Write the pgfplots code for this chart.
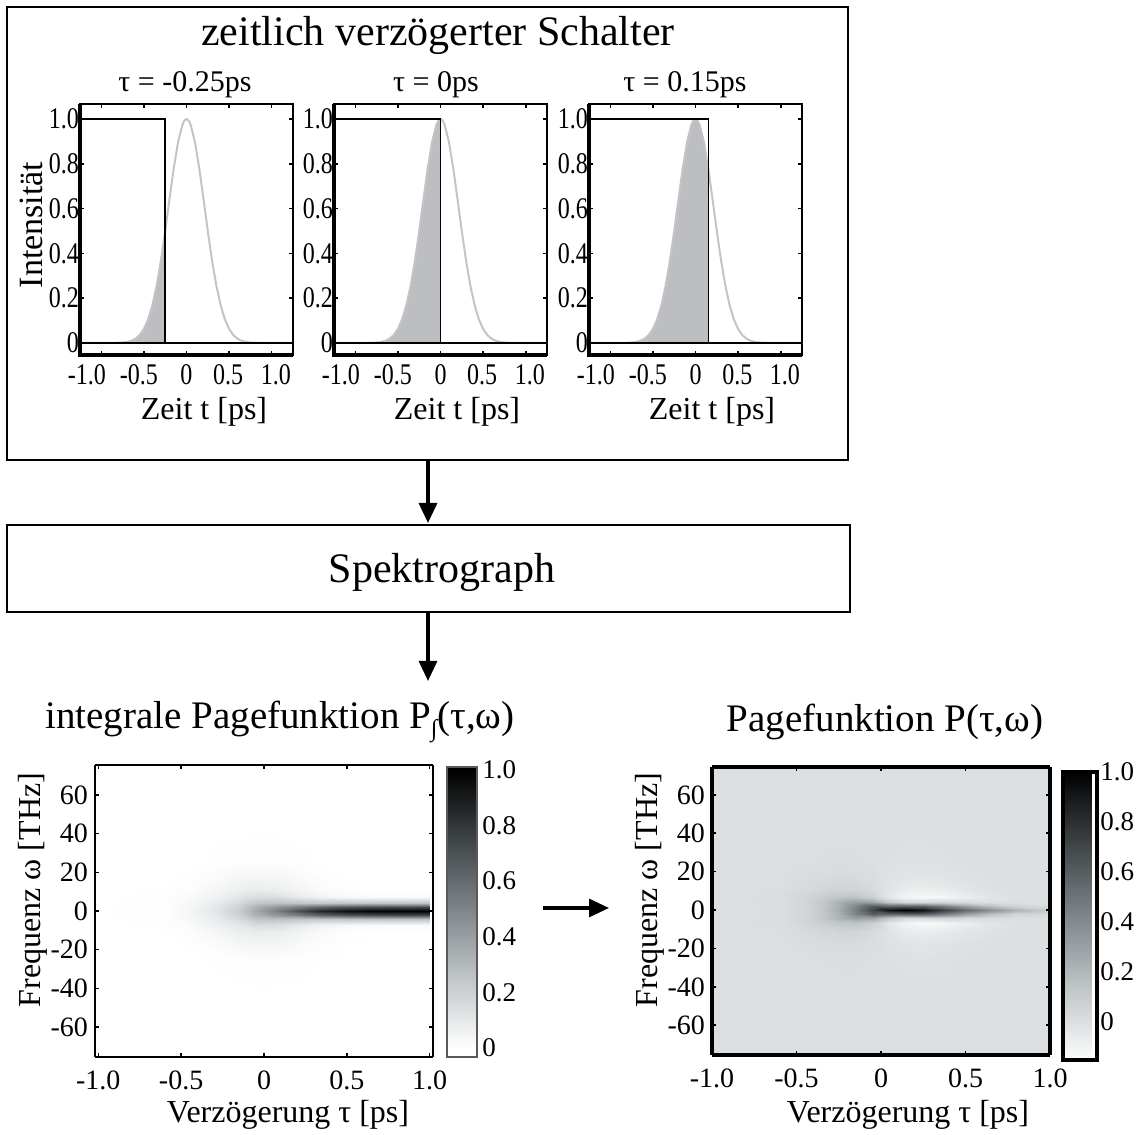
\documentclass[border=0pt]{standalone}
\usepackage{fontspec}
\setmainfont{Liberation Serif}
\newfontfamily\tickfont[FakeStretch=0.8]{Liberation Serif}
\usepackage{pgfplots}
\usepackage{pgfplotstable}
\pgfplotsset{compat=1.18}
\usetikzlibrary{arrows.meta}
\newcommand{\fs}[1]{\fontsize{#1}{#1}\selectfont}
\definecolor{fillgray}{RGB}{189,190,194}
\definecolor{curvegray}{RGB}{196,196,198}

\pgfplotstableread{
t I
-1.25 0
-1.0 0
-0.9 0.0001
-0.8 0.0008
-0.75 0.0019
-0.7 0.0043
-0.65 0.0092
-0.6 0.0184
-0.55 0.0348
-0.5 0.0623
-0.45 0.1056
-0.4 0.1693
-0.35 0.2567
-0.3 0.3683
-0.25 0.4996
-0.2 0.6415
-0.15 0.7790
-0.1 0.8949
-0.05 0.9726
-0.025 0.9931
0 1.0
0.025 0.9931
0.05 0.9726
0.1 0.8949
0.15 0.7790
0.2 0.6415
0.25 0.4996
0.3 0.3683
0.35 0.2567
0.4 0.1693
0.45 0.1056
0.5 0.0623
0.55 0.0348
0.6 0.0184
0.65 0.0092
0.7 0.0043
0.75 0.0019
0.8 0.0008
0.9 0.0001
1.0 0
1.25 0
}\pulse

\pgfplotsset{
  colormap={leftmap}{rgb255(0cm)=(255,255,255) rgb255(0.3cm)=(255,255,255) rgb255(2.7cm)=(193,198,201) rgb255(5.1cm)=(127,133,137) rgb255(7.5cm)=(63,68,71) rgb255(9.9cm)=(0,0,0) rgb255(10cm)=(0,0,0)},
  colormap={rightmap}{rgb255(0cm)=(252,253,253) rgb255(2.5cm)=(192,197,200) rgb255(5cm)=(127,133,137) rgb255(7.5cm)=(63,68,71) rgb255(10cm)=(0,0,0)},
  smallplot/.style={
    scale only axis, width=106.5pt, height=125.5pt, anchor=south west,
    xmin=-1.25, xmax=1.25, ymin=-0.054, ymax=1.067,
    axis line style={line width=0.6pt},
    tick align=inside, major tick length=1.8pt,
    tick style={line width=0.8pt, black},
    xtick={-1,-0.5,0,0.5,1}, xticklabels={},
    extra x ticks={-1.17,-0.56,0,0.49,1.05},
    extra x tick labels={-1.0,-0.5,0,0.5,1.0},
    extra x tick style={major tick length=0pt},
    ytick={0,0.2,0.4,0.6,0.8,1.0},
    yticklabels={0,0.2,0.4,0.6,0.8,1.0},
    tick label style={font=\tickfont\fs{15}},
    yticklabel style={inner sep=0.4pt},
    xticklabel style={yshift=-1pt},
    after end axis/.code={\draw[line width=1.6pt] (rel axis cs:0,1) -- (rel axis cs:0,0) -- (rel axis cs:1,0);},
  },
  heat/.style={
    view={0}{90}, scale only axis, width=169pt, anchor=south west,
    xmin=-1.02, xmax=1.02, ymin=-75.5, ymax=75.5,
    xtick={-1,-0.5,0,0.5,1}, xticklabels={-1.0,-0.5,0,0.5,1.0},
    ytick={-60,-40,-20,0,20,40,60}, yticklabels={-60,-40,-20,0,20,40,60},
    ztick=\empty,
    tick align=inside, major tick length=2pt,
    tick style={line width=0.8pt, black},
    tick label style={font=\fs{14}},
    xticklabel style={yshift=-3.5pt},
  },
}

\begin{document}
\begin{tikzpicture}
\path[use as bounding box] (0pt,0pt) rectangle (571pt,567.5pt);
\begin{scope}[x=0.5pt,y=-0.5pt,shift={(0pt,567.5pt)}]
  \draw[line width=1pt] (7,7) rectangle (848,460);
  \draw[line width=1pt] (7,525) rectangle (850,612);
  \draw[line width=1.6pt,-{Triangle[length=10pt,width=9pt]}] (428,460) -- (428,523);
  \draw[line width=1.6pt,-{Triangle[length=10pt,width=9pt]}] (428,612) -- (428,681);
  \draw[line width=1.6pt,-{Triangle[length=10pt,width=9pt]}] (543,908) -- (609,908);
  \node[font=\fs{21}] at (438,35) {zeitlich verzögerter Schalter};
  \node[font=\fs{15}] at (185,85) {τ = -0.25ps};
  \node[font=\fs{15}] at (436,85) {τ = 0ps};
  \node[font=\fs{15}] at (685,85) {τ = 0.15ps};
  \node[font=\fs{17},rotate=90] at (31,225) {Intensität};
  \node[font=\fs{16}] at (204,412) {Zeit t [ps]};
  \node[font=\fs{16}] at (457,412) {Zeit t [ps]};
  \node[font=\fs{16}] at (712,412) {Zeit t [ps]};
  \node[font=\fs{21}] at (442,572) {Spektrograph};
  \node[font=\fs{19.5}] at (280,722) {integrale Pagefunktion P\raisebox{-0.45ex}{\fs{12}∫}(τ,ω)};
  \node[font=\fs{19.5}] at (885,722) {Pagefunktion P(τ,ω)};
  \node[font=\fs{16},rotate=90] at (33,890) {Frequenz ω [THz]};
  \node[font=\fs{16},rotate=90] at (650,890) {Frequenz ω [THz]};
  \node[font=\fs{16}] at (288,1115) {Verzögerung τ [ps]};
  \node[font=\fs{16}] at (908,1115) {Verzögerung τ [ps]};
\end{scope}

% ---- small plot 1 ----
\begin{axis}[smallplot, at={(40pt,390pt)}]
  \addplot[fill=fillgray, draw=none] table[x=t,y=I, restrict x to domain=-1.3:-0.249] {\pulse} \closedcycle;
  \addplot[curvegray, line width=1pt] table[x=t,y=I] {\pulse};
  \addplot[black, line width=0.7pt] coordinates {(-1.25,1) (-0.25,1) (-0.25,0)};
  \addplot[black, line width=0.7pt] coordinates {(-1.25,0) (1.25,0)};
\end{axis}
% ---- small plot 2 ----
\begin{axis}[smallplot, at={(167pt,390pt)}]
  \addplot[fill=fillgray, draw=none] table[x=t,y=I, restrict x to domain=-1.3:0.001] {\pulse} \closedcycle;
  \addplot[curvegray, line width=1pt] table[x=t,y=I] {\pulse};
  \addplot[black, line width=0.7pt] coordinates {(-1.25,1) (0,1) (0,0)};
  \addplot[black, line width=0.7pt] coordinates {(-1.25,0) (1.25,0)};
\end{axis}
% ---- small plot 3 ----
\begin{axis}[smallplot, at={(294.5pt,390pt)}]
  \addplot[fill=fillgray, draw=none] table[x=t,y=I, restrict x to domain=-1.3:0.151] {\pulse} \closedcycle;
  \addplot[curvegray, line width=1pt] table[x=t,y=I] {\pulse};
  \addplot[black, line width=0.7pt] coordinates {(-1.25,1) (0.15,1) (0.15,0)};
  \addplot[black, line width=0.7pt] coordinates {(-1.25,0) (1.25,0)};
\end{axis}

% ---- left heatmap ----
\begin{axis}[heat, at={(47.5pt,39pt)}, height=146pt,
  axis line style={line width=1pt},
  colormap name=leftmap, point meta min=-0.032, point meta max=1.01,
  colorbar,
  colorbar style={scale only axis, width=15pt, height=145pt,
    at={(parent axis.north east)}, anchor=north west, xshift=-1.54pt, yshift=-1pt,
    ytick={0,0.2,0.4,0.6,0.8,1}, yticklabels={0,0.2,0.4,0.6,0.8,1.0},
    yticklabel style={font=\fs{13.5}, inner sep=2.5pt},
    major tick length=0pt, axis line style={draw=black!65, line width=0.8pt}}]
\addplot3[surf, shader=interp, mesh/rows=17, mesh/cols=15] coordinates {
(-1,-76,0) (-0.6,-76,0) (-0.45,-76,0) (-0.35,-76,0) (-0.25,-76,0) (-0.15,-76,0) (-0.05,-76,0) (0.05,-76,0) (0.15,-76,0) (0.25,-76,0) (0.35,-76,0) (0.5,-76,0) (0.65,-76,0) (0.8,-76,0) (1,-76,0)
(-1,-40,0) (-0.6,-40,0) (-0.45,-40,0) (-0.35,-40,0) (-0.25,-40,0) (-0.15,-40,0) (-0.05,-40,0.001) (0.05,-40,0.001) (0.15,-40,0) (0.25,-40,0) (0.35,-40,0) (0.5,-40,0) (0.65,-40,0) (0.8,-40,0) (1,-40,0)
(-1,-25,0) (-0.6,-25,0) (-0.45,-25,0) (-0.35,-25,0.001) (-0.25,-25,0.004) (-0.15,-25,0.007) (-0.05,-25,0.009) (0.05,-25,0.009) (0.15,-25,0.007) (0.25,-25,0.003) (0.35,-25,0) (0.5,-25,0) (0.65,-25,0) (0.8,-25,0) (1,-25,0)
(-1,-17,0) (-0.6,-17,0) (-0.45,-17,0.003) (-0.35,-17,0.012) (-0.25,-17,0.025) (-0.15,-17,0.040) (-0.05,-17,0.045) (0.05,-17,0.044) (0.15,-17,0.035) (0.25,-17,0.020) (0.35,-17,0.007) (0.5,-17,0) (0.65,-17,0) (0.8,-17,0) (1,-17,0)
(-1,-11,0) (-0.6,-11,0.001) (-0.45,-11,0.012) (-0.35,-11,0.030) (-0.25,-11,0.050) (-0.15,-11,0.070) (-0.05,-11,0.085) (0.05,-11,0.080) (0.15,-11,0.062) (0.25,-11,0.040) (0.35,-11,0.020) (0.5,-11,0.006) (0.65,-11,0) (0.8,-11,0) (1,-11,0)
(-1,-7,0) (-0.6,-7,0.003) (-0.45,-7,0.022) (-0.35,-7,0.048) (-0.25,-7,0.075) (-0.15,-7,0.110) (-0.05,-7,0.150) (0.05,-7,0.150) (0.15,-7,0.120) (0.25,-7,0.085) (0.35,-7,0.055) (0.5,-7,0.030) (0.65,-7,0.022) (0.8,-7,0.022) (1,-7,0.022)
(-1,-4,0) (-0.6,-4,0.005) (-0.45,-4,0.032) (-0.35,-4,0.066) (-0.25,-4,0.110) (-0.15,-4,0.160) (-0.05,-4,0.250) (0.05,-4,0.270) (0.15,-4,0.260) (0.25,-4,0.250) (0.35,-4,0.250) (0.5,-4,0.255) (0.65,-4,0.260) (0.8,-4,0.262) (1,-4,0.264)
(-1,-2,0) (-0.6,-2,0.006) (-0.45,-2,0.037) (-0.35,-2,0.075) (-0.25,-2,0.130) (-0.15,-2,0.200) (-0.05,-2,0.330) (0.05,-2,0.410) (0.15,-2,0.480) (0.25,-2,0.560) (0.35,-2,0.630) (0.5,-2,0.690) (0.65,-2,0.715) (0.8,-2,0.725) (1,-2,0.730)
(-1,0,0) (-0.6,0,0.006) (-0.45,0,0.040) (-0.35,0,0.080) (-0.25,0,0.140) (-0.15,0,0.220) (-0.05,0,0.360) (0.05,0,0.480) (0.15,0,0.620) (0.25,0,0.750) (0.35,0,0.860) (0.5,0,0.940) (0.65,0,0.980) (0.8,0,0.995) (1,0,1.0)
(-1,2,0) (-0.6,2,0.006) (-0.45,2,0.037) (-0.35,2,0.075) (-0.25,2,0.130) (-0.15,2,0.200) (-0.05,2,0.330) (0.05,2,0.410) (0.15,2,0.480) (0.25,2,0.560) (0.35,2,0.630) (0.5,2,0.690) (0.65,2,0.715) (0.8,2,0.725) (1,2,0.730)
(-1,4,0) (-0.6,4,0.005) (-0.45,4,0.032) (-0.35,4,0.066) (-0.25,4,0.110) (-0.15,4,0.160) (-0.05,4,0.250) (0.05,4,0.270) (0.15,4,0.260) (0.25,4,0.250) (0.35,4,0.250) (0.5,4,0.255) (0.65,4,0.260) (0.8,4,0.262) (1,4,0.264)
(-1,7,0) (-0.6,7,0.003) (-0.45,7,0.022) (-0.35,7,0.048) (-0.25,7,0.075) (-0.15,7,0.110) (-0.05,7,0.150) (0.05,7,0.150) (0.15,7,0.120) (0.25,7,0.085) (0.35,7,0.055) (0.5,7,0.030) (0.65,7,0.022) (0.8,7,0.022) (1,7,0.022)
(-1,11,0) (-0.6,11,0.001) (-0.45,11,0.012) (-0.35,11,0.030) (-0.25,11,0.050) (-0.15,11,0.070) (-0.05,11,0.085) (0.05,11,0.080) (0.15,11,0.062) (0.25,11,0.040) (0.35,11,0.020) (0.5,11,0.006) (0.65,11,0) (0.8,11,0) (1,11,0)
(-1,17,0) (-0.6,17,0) (-0.45,17,0.003) (-0.35,17,0.012) (-0.25,17,0.025) (-0.15,17,0.040) (-0.05,17,0.045) (0.05,17,0.044) (0.15,17,0.035) (0.25,17,0.020) (0.35,17,0.007) (0.5,17,0) (0.65,17,0) (0.8,17,0) (1,17,0)
(-1,25,0) (-0.6,25,0) (-0.45,25,0) (-0.35,25,0.001) (-0.25,25,0.004) (-0.15,25,0.007) (-0.05,25,0.009) (0.05,25,0.009) (0.15,25,0.007) (0.25,25,0.003) (0.35,25,0) (0.5,25,0) (0.65,25,0) (0.8,25,0) (1,25,0)
(-1,40,0) (-0.6,40,0) (-0.45,40,0) (-0.35,40,0) (-0.25,40,0) (-0.15,40,0) (-0.05,40,0.001) (0.05,40,0.001) (0.15,40,0) (0.25,40,0) (0.35,40,0) (0.5,40,0) (0.65,40,0) (0.8,40,0) (1,40,0)
(-1,76,0) (-0.6,76,0) (-0.45,76,0) (-0.35,76,0) (-0.25,76,0) (-0.15,76,0) (-0.05,76,0) (0.05,76,0) (0.15,76,0) (0.25,76,0) (0.35,76,0) (0.5,76,0) (0.65,76,0) (0.8,76,0) (1,76,0)
};
\end{axis}

% ---- right heatmap ----
\begin{axis}[heat, at={(356pt,40pt)}, height=144pt,
  xmin=-1, xmax=1, ymin=-75.5, ymax=74.5,
  axis line style={line width=1.6pt},
  colormap name=rightmap, point meta min=-0.152, point meta max=1.0,
  colorbar,
  colorbar style={scale only axis, width=17pt, height=144pt,
    at={(parent axis.north east)}, anchor=north west, xshift=-2.04pt, yshift=-2.5pt,
    ytick={0,0.2,0.4,0.6,0.8,1}, yticklabels={0,0.2,0.4,0.6,0.8,1.0},
    yticklabel style={font=\fs{13.5}, inner sep=1.5pt},
    major tick length=0pt, axis line style={draw=black, line width=1.6pt}}]
\addplot3[surf, shader=interp, mesh/rows=17, mesh/cols=15] coordinates {
(-1,-76,0) (-0.6,-76,0) (-0.45,-76,0) (-0.35,-76,0) (-0.25,-76,0) (-0.15,-76,0) (-0.05,-76,0) (0.05,-76,0) (0.15,-76,0) (0.25,-76,0) (0.35,-76,0) (0.5,-76,0) (0.65,-76,0) (0.8,-76,0) (1,-76,0)
(-1,-40,0) (-0.6,-40,0) (-0.45,-40,0.001) (-0.35,-40,0.001) (-0.25,-40,0.002) (-0.15,-40,0.002) (-0.05,-40,0.001) (0.05,-40,-0.001) (0.15,-40,-0.002) (0.25,-40,-0.002) (0.35,-40,-0.001) (0.5,-40,0) (0.65,-40,0) (0.8,-40,0) (1,-40,0)
(-1,-25,0) (-0.6,-25,0) (-0.45,-25,0.003) (-0.35,-25,0.006) (-0.25,-25,0.008) (-0.15,-25,0.007) (-0.05,-25,0.003) (0.05,-25,-0.005) (0.15,-25,-0.010) (0.25,-25,-0.011) (0.35,-25,-0.009) (0.5,-25,-0.003) (0.65,-25,0) (0.8,-25,0) (1,-25,0)
(-1,-17,0) (-0.6,-17,0.002) (-0.45,-17,0.012) (-0.35,-17,0.022) (-0.25,-17,0.028) (-0.15,-17,0.025) (-0.05,-17,0.010) (0.05,-17,-0.012) (0.15,-17,-0.025) (0.25,-17,-0.028) (0.35,-17,-0.022) (0.5,-17,-0.010) (0.65,-17,-0.002) (0.8,-17,0) (1,-17,0)
(-1,-11,0) (-0.6,-11,0.005) (-0.45,-11,0.025) (-0.35,-11,0.045) (-0.25,-11,0.060) (-0.15,-11,0.055) (-0.05,-11,0.025) (0.05,-11,-0.025) (0.15,-11,-0.060) (0.25,-11,-0.070) (0.35,-11,-0.060) (0.5,-11,-0.030) (0.65,-11,-0.008) (0.8,-11,0) (1,-11,0)
(-1,-7,0) (-0.6,-7,0.010) (-0.45,-7,0.050) (-0.35,-7,0.090) (-0.25,-7,0.130) (-0.15,-7,0.140) (-0.05,-7,0.080) (0.05,-7,-0.040) (0.15,-7,-0.100) (0.25,-7,-0.130) (0.35,-7,-0.120) (0.5,-7,-0.070) (0.65,-7,-0.025) (0.8,-7,-0.004) (1,-7,0)
(-1,-4,0) (-0.6,-4,0.008) (-0.45,-4,0.050) (-0.35,-4,0.120) (-0.25,-4,0.220) (-0.15,-4,0.310) (-0.05,-4,0.280) (0.05,-4,0.120) (0.15,-4,0.030) (0.25,-4,0.030) (0.35,-4,0.050) (0.5,-4,0.020) (0.65,-4,0.010) (0.8,-4,0.003) (1,-4,0)
(-1,-2,0) (-0.6,-2,0.007) (-0.45,-2,0.045) (-0.35,-2,0.110) (-0.25,-2,0.230) (-0.15,-2,0.430) (-0.05,-2,0.600) (0.05,-2,0.560) (0.15,-2,0.580) (0.25,-2,0.580) (0.35,-2,0.480) (0.5,-2,0.300) (0.65,-2,0.160) (0.8,-2,0.060) (1,-2,0.020)
(-1,0,0) (-0.6,0,0.008) (-0.45,0,0.050) (-0.35,0,0.120) (-0.25,0,0.250) (-0.15,0,0.460) (-0.05,0,0.710) (0.05,0,0.920) (0.15,0,1.0) (0.25,0,0.930) (0.35,0,0.760) (0.5,0,0.550) (0.65,0,0.380) (0.8,0,0.220) (1,0,0.100)
(-1,2,0) (-0.6,2,0.007) (-0.45,2,0.045) (-0.35,2,0.110) (-0.25,2,0.230) (-0.15,2,0.430) (-0.05,2,0.600) (0.05,2,0.560) (0.15,2,0.580) (0.25,2,0.580) (0.35,2,0.480) (0.5,2,0.300) (0.65,2,0.160) (0.8,2,0.060) (1,2,0.020)
(-1,4,0) (-0.6,4,0.008) (-0.45,4,0.050) (-0.35,4,0.120) (-0.25,4,0.220) (-0.15,4,0.310) (-0.05,4,0.280) (0.05,4,0.120) (0.15,4,0.030) (0.25,4,0.030) (0.35,4,0.050) (0.5,4,0.020) (0.65,4,0.010) (0.8,4,0.003) (1,4,0)
(-1,7,0) (-0.6,7,0.010) (-0.45,7,0.050) (-0.35,7,0.090) (-0.25,7,0.130) (-0.15,7,0.140) (-0.05,7,0.080) (0.05,7,-0.040) (0.15,7,-0.100) (0.25,7,-0.130) (0.35,7,-0.120) (0.5,7,-0.070) (0.65,7,-0.025) (0.8,7,-0.004) (1,7,0)
(-1,11,0) (-0.6,11,0.005) (-0.45,11,0.025) (-0.35,11,0.045) (-0.25,11,0.060) (-0.15,11,0.055) (-0.05,11,0.025) (0.05,11,-0.025) (0.15,11,-0.060) (0.25,11,-0.070) (0.35,11,-0.060) (0.5,11,-0.030) (0.65,11,-0.008) (0.8,11,0) (1,11,0)
(-1,17,0) (-0.6,17,0.002) (-0.45,17,0.012) (-0.35,17,0.022) (-0.25,17,0.028) (-0.15,17,0.025) (-0.05,17,0.010) (0.05,17,-0.012) (0.15,17,-0.025) (0.25,17,-0.028) (0.35,17,-0.022) (0.5,17,-0.010) (0.65,17,-0.002) (0.8,17,0) (1,17,0)
(-1,25,0) (-0.6,25,0) (-0.45,25,0.003) (-0.35,25,0.006) (-0.25,25,0.008) (-0.15,25,0.007) (-0.05,25,0.003) (0.05,25,-0.005) (0.15,25,-0.010) (0.25,25,-0.011) (0.35,25,-0.009) (0.5,25,-0.003) (0.65,25,0) (0.8,25,0) (1,25,0)
(-1,40,0) (-0.6,40,0) (-0.45,40,0.001) (-0.35,40,0.001) (-0.25,40,0.002) (-0.15,40,0.002) (-0.05,40,0.001) (0.05,40,-0.001) (0.15,40,-0.002) (0.25,40,-0.002) (0.35,40,-0.001) (0.5,40,0) (0.65,40,0) (0.8,40,0) (1,40,0)
(-1,76,0) (-0.6,76,0) (-0.45,76,0) (-0.35,76,0) (-0.25,76,0) (-0.15,76,0) (-0.05,76,0) (0.05,76,0) (0.15,76,0) (0.25,76,0) (0.35,76,0) (0.5,76,0) (0.65,76,0) (0.8,76,0) (1,76,0)
};
\end{axis}
\end{tikzpicture}
\end{document}
